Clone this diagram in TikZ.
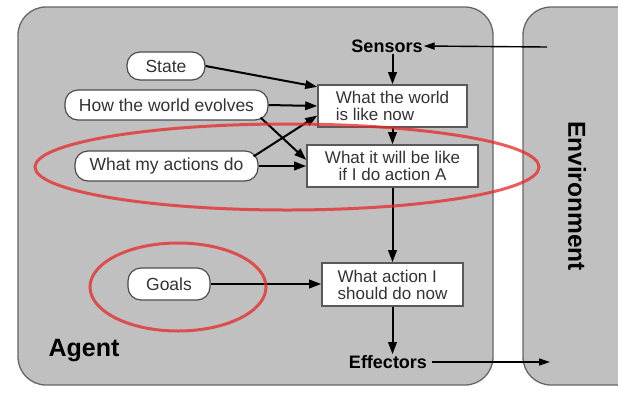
\documentclass[tikz,border=0pt]{standalone}
\usepackage{fontspec}
\setmainfont{Liberation Sans}
\usetikzlibrary{arrows.meta,calc}
\definecolor{panelgray}{RGB}{192,192,192}
\definecolor{ringred}{RGB}{230,40,40}
\begin{document}
\begin{tikzpicture}[x=1pt,y=-1pt,
  panel/.style={draw=black!60, line width=1.3pt, fill=panelgray, rounded corners=28pt},
  pill/.style={draw=black!70, line width=1.2pt, fill=white, rounded corners=13pt,
    inner sep=0pt, font=\fontsize{17.5}{17}\selectfont, text=black!80},
  stepbox/.style={draw=black!65, line width=1.6pt, fill=white, inner sep=0pt,
    font=\fontsize{17}{17}\selectfont, text=black!80},
  port/.style={font=\bfseries\fontsize{18}{18}\selectfont, inner sep=1pt},
  flow/.style={-{Triangle[length=12pt,width=8.5pt]}, line width=2pt},
  thinflow/.style={-{Triangle[length=11pt,width=7pt]}, line width=1.4pt},
  ring/.style={draw=ringred, draw opacity=0.75, line width=3pt}
]
\useasboundingbox (0,0) rectangle (618,392);
\fill[white] (0,0) rectangle (618,392);

% agent and environment panels
\begin{scope}
  \clip (0,0) rectangle (618,392);
  \draw[panel] (18,7) rectangle (493,385);
  \draw[panel] (523,7) rectangle (670,385);
\end{scope}
\node[font=\bfseries\fontsize{25}{25}\selectfont] (agent) at (84,351) {Agent};
\node[font=\bfseries\fontsize{24.5}{24.5}\selectfont, rotate=-90] (env) at (577,196) {Environment};

% knowledge pills
\node[pill, minimum width=78pt, minimum height=28pt] (state) at (166,66) {State};
\node[pill, minimum width=203pt, minimum height=30pt] (evolves) at (166.5,105) {How the world evolves};
\node[pill, minimum width=183pt, minimum height=30pt] (actions) at (166.5,166) {What my actions do};
\node[pill, minimum width=82pt, minimum height=32pt] (goals) at (169,284) {Goals};

% reasoning steps
\node[stepbox, minimum width=149pt, minimum height=42pt, align=left] (now) at (392.5,106) {What the world\\is like now};
\node[stepbox, minimum width=171pt, minimum height=42pt, align=center] (ahead) at (392.5,166) {What it will be like\\if I do action A};
\node[stepbox, minimum width=141pt, minimum height=43pt, align=left] (decide) at (392.5,284.5) {What action I\\should do now};

% sensors and effectors
\node[port] (sensors) at (387,46) {Sensors};
\node[port] (effectors) at (388,362) {Effectors};
\coordinate (envin) at (547,47);
\coordinate (envout) at (550,362);

% connectors
\draw[thinflow] (envin) -- (sensors.east);
\draw[thinflow] ($(effectors.east)+(4,0)$) -- (envout);
\draw[flow] (sensors.south -| now.north) -- (now.north);
\draw[flow] (now.south) -- (ahead.north);
\draw[flow] (ahead.south) -- (decide.north);
\draw[flow] (decide.south) -- (effectors.north -| decide.south);
\draw[flow] (state.east) -- ($(now.north west)!0.06!(now.south west)$);
\draw[flow] (evolves.east) -- (now.west);
\draw[flow] ($(evolves.south east)+(-8,-3)$) -- ($(ahead.north west)!0.36!(ahead.south west)$);
\draw[flow] ($(actions.north east)+(-5,6)$) -- ($(now.north west)!0.72!(now.south west)$);
\draw[flow] (actions.east) -- (ahead.west);
\draw[flow] (goals.east) -- (goals.east -| decide.west);

% highlight rings
\draw[ring] (287,167) ellipse [x radius=252pt, y radius=43pt];
\draw[ring] (178,287) ellipse [x radius=88pt, y radius=44pt];
\end{tikzpicture}
\end{document}
